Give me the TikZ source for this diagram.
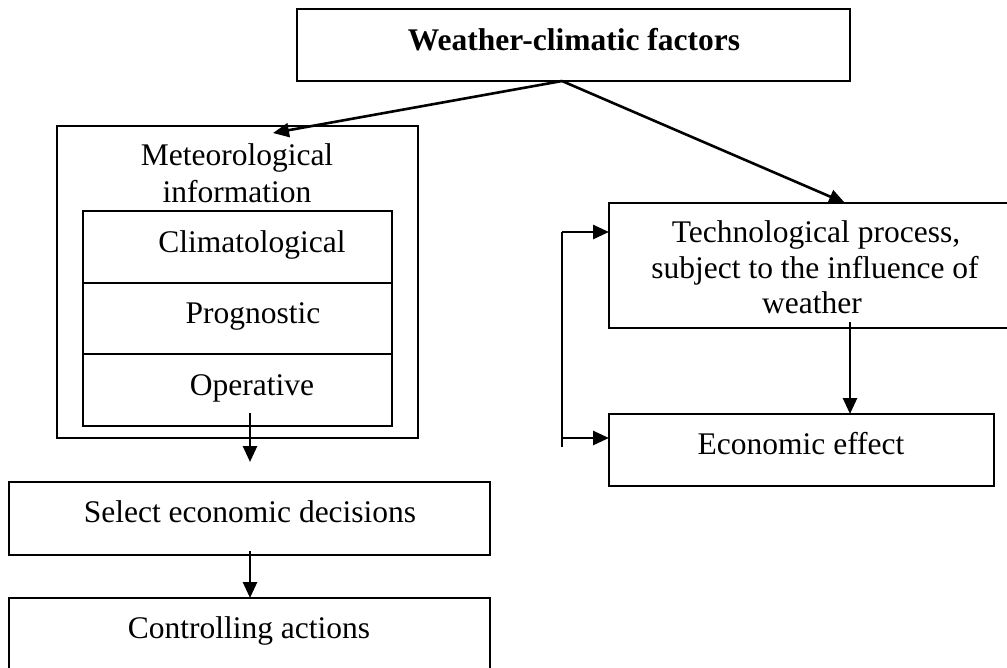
\documentclass[tikz,border=0pt]{standalone}
\usepackage{fontspec}
\setmainfont{Liberation Serif}
\usetikzlibrary{arrows.meta}
\tikzset{
  box/.style={draw, line width=2pt, rectangle, inner sep=0pt, outer sep=0pt, anchor=north west},
  txt/.style={inner sep=0pt, outer sep=0pt, anchor=base, font=\fontsize{31.5}{36.5}\selectfont},
  arr/.style={line width=2.6pt, -{Triangle[length=16pt,width=14pt]}},
  ln/.style={line width=2.6pt}
}
\begin{document}
\begin{tikzpicture}[x=1pt,y=-1pt]
\useasboundingbox (0,0) rectangle (1007,667);
\clip (0,0) rectangle (1007,667);
% boxes
\node[box, minimum width=553pt, minimum height=72pt] (top) at (297,9) {};
\node[box, minimum width=361pt, minimum height=312pt] (outer) at (57,126) {};
\node[box, minimum width=309pt, minimum height=72pt] (clim) at (83,211) {};
\node[box, minimum width=309pt, minimum height=71pt] (prog) at (83,283) {};
\node[box, minimum width=309pt, minimum height=72pt] (oper) at (83,354) {};
\node[box, minimum width=481pt, minimum height=73pt] (sel) at (9,482) {};
\node[box, minimum width=481pt, minimum height=120pt] (ctrl) at (9,598) {};
\node[box, minimum width=450pt, minimum height=125pt] (tech) at (609,203) {};
\node[box, minimum width=385pt, minimum height=72pt] (econ) at (609,414) {};
% texts
\node[txt] (ttop) at (574,50) {\bfseries Weather-climatic factors};
\node[txt] (tmet1) at (237,165) {Meteorological};
\node[txt] (tmet2) at (237,202) {information};
\node[txt] (tclim) at (252,252) {Climatological};
\node[txt] (tprog) at (253,323) {Prognostic};
\node[txt] (toper) at (252,395) {Operative};
\node[txt] (ttech1) at (816,242) {Technological process,};
\node[txt] (ttech2) at (815,278) {subject to the influence of};
\node[txt] (ttech3) at (812,313) {weather};
\node[txt] (tecon) at (801,454) {Economic effect};
\node[txt] (tsel) at (250,522) {Select economic decisions};
\node[txt] (tctrl) at (249,638) {Controlling actions};
% coordinates
\coordinate (src) at (562,81);
\coordinate (metTip) at (273,133);
\coordinate (techTip) at (845,203);
\coordinate (opS) at (250,413);
\coordinate (selTip) at (250,462);
\coordinate (selS) at (250,551);
\coordinate (techS) at (850,322);
\coordinate (brT) at (562,232);
\coordinate (brB) at (562,447);
\coordinate (brE) at (562,438);
% connectors
\draw[arr] (src) -- (metTip);
\draw[arr] (src) -- (techTip);
\draw[arr] (opS) -- (selTip);
\draw[arr] (selS) -- (selS |- ctrl.north);
\draw[arr] (techS) -- (techS |- econ.north);
\draw[ln] (brB) -- (brT);
\draw[arr] (brT) -- (brT -| tech.west);
\draw[arr] (brE) -- (brE -| econ.west);
\end{tikzpicture}
\end{document}
